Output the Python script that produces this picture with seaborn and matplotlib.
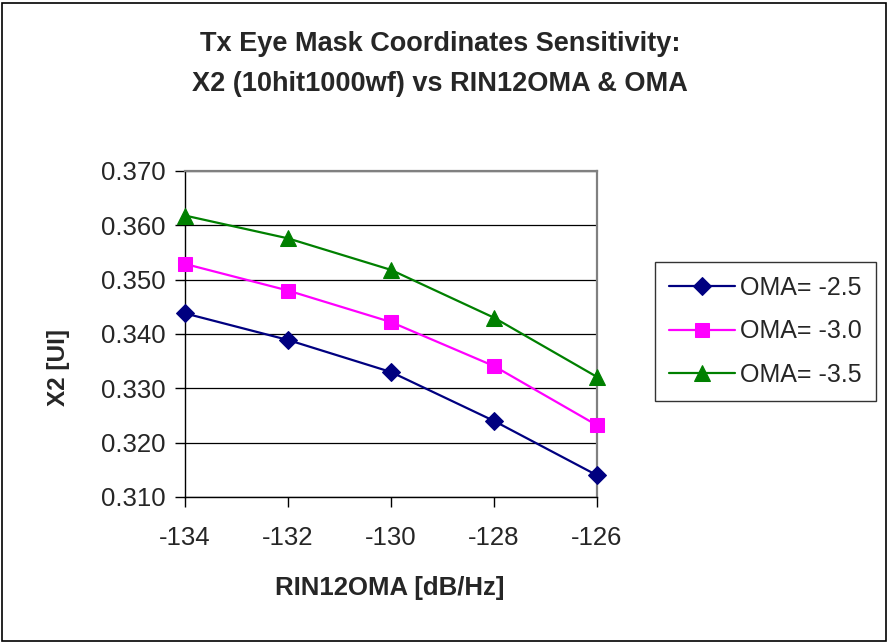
import matplotlib
matplotlib.use("Agg")
import matplotlib.pyplot as plt
import seaborn as sns
import pandas as pd
from matplotlib.patches import Rectangle

rin = [-134, -132, -130, -128, -126]
x2_oma_25 = [0.3438, 0.3389, 0.3330, 0.3240, 0.3140]
x2_oma_30 = [0.3529, 0.3480, 0.3422, 0.3341, 0.3232]
x2_oma_35 = [0.3618, 0.3576, 0.3518, 0.3430, 0.3321]
series_labels = ["OMA= -2.5", "OMA= -3.0", "OMA= -3.5"]
yticks = [0.310, 0.320, 0.330, 0.340, 0.350, 0.360, 0.370]

df = pd.DataFrame({
    "RIN": rin * 3,
    "X2": x2_oma_25 + x2_oma_30 + x2_oma_35,
    "series": [s for s in series_labels for _ in rin],
})

sns.set_style("white")
plt.rcParams["font.family"] = ["Liberation Sans", "DejaVu Sans"]

W, H = 889, 643
fig = plt.figure(figsize=(W / 100, H / 100), dpi=100)
L, R, T, B = 185, 597, 171, 497
ax = fig.add_axes([L / W, 1 - B / H, (R - L) / W, (B - T) / H])

palette = {"OMA= -2.5": "#000080", "OMA= -3.0": "#FF00FF", "OMA= -3.5": "#008000"}
markers = {"OMA= -2.5": "D", "OMA= -3.0": "s", "OMA= -3.5": "^"}
sizes = {"OMA= -2.5": 9.5, "OMA= -3.0": 10, "OMA= -3.5": 11}

for s in series_labels:
    sub = df[df["series"] == s]
    sns.lineplot(data=sub, x="RIN", y="X2", ax=ax, color=palette[s], marker=markers[s],
                 markersize=sizes[s], markeredgecolor=palette[s], linewidth=1.6,
                 label=s, clip_on=False, zorder=3)

ax.set_xlim(-134, -126)
ax.set_ylim(0.310, 0.370)
ax.set_xticks(rin)
ax.set_xticklabels([str(v) for v in rin])
ax.set_yticks(yticks)
ax.set_yticklabels([f"{v:.3f}" for v in yticks])
ax.yaxis.grid(True, color="black", linewidth=0.9)
ax.xaxis.grid(False)
ax.tick_params(axis="both", which="major", labelsize=18.5, direction="out",
               length=7, width=1, color="black", left=True, bottom=True)
ax.tick_params(axis="y", pad=7)
ax.tick_params(axis="x", pad=14)

for side in ["top", "right"]:
    ax.spines[side].set_color("#808080")
    ax.spines[side].set_linewidth(1.6)
for side in ["left", "bottom"]:
    ax.spines[side].set_color("black")
    ax.spines[side].set_linewidth(1.0)

ax.set_xlabel("RIN12OMA [dB/Hz]", fontsize=18.5, fontweight="bold")
ax.set_ylabel("X2 [UI]", fontsize=17.5, fontweight="bold")
ax.xaxis.set_label_coords(((390 - L) / (R - L)), 1 - (588 - T) / (B - T))
ax.yaxis.set_label_coords(-(L - 58) / (R - L), 1 - (368 - T) / (B - T))
ax.xaxis.label.set_va("center")
ax.yaxis.label.set_va("center")

fig.text(440 / W, 1 - 64 / H,
         "Tx Eye Mask Coordinates Sensitivity:\nX2 (10hit1000wf) vs RIN12OMA & OMA",
         ha="center", va="center", fontsize=19.5, fontweight="bold", linespacing=1.7)

leg = ax.legend(loc="upper left", bbox_to_anchor=(655 / W, 1 - 262 / H),
                bbox_transform=fig.transFigure, fontsize=18, frameon=True,
                fancybox=False, edgecolor="black", handlelength=2.65,
                labelspacing=0.78, borderpad=0.55, handletextpad=0.2,
                borderaxespad=0)
leg.get_frame().set_linewidth(1.0)

fig.patches.append(Rectangle((2 / W, 2 / H), 884 / W, 638 / H,
                             transform=fig.transFigure, fill=False,
                             edgecolor="black", linewidth=1.2))

fig.savefig("out.png", dpi=100)
